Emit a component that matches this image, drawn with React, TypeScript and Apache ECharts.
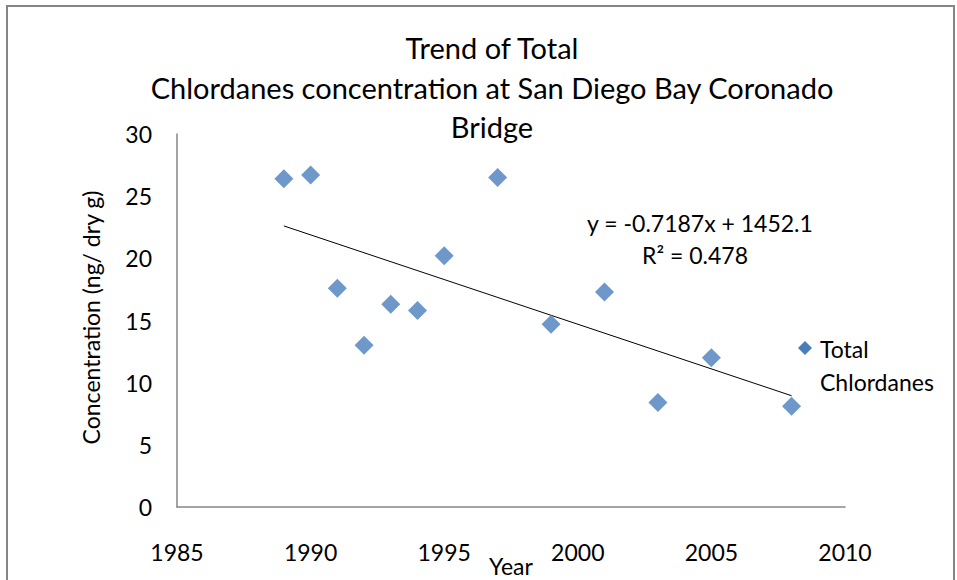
import React, { useEffect, useRef } from "react";
import * as echarts from "echarts";

const years = [1989, 1990, 1991, 1992, 1993, 1994, 1995, 1997, 1999, 2001, 2003, 2005, 2008];
const concentrations = [26.4, 26.7, 17.6, 13.0, 16.3, 15.8, 20.2, 26.5, 14.7, 17.3, 8.4, 12.0, 8.1];
const trendSlope = -0.7187;
const trendIntercept = 1452.1;
const trendText = ["y = -0.7187x + 1452.1", "R² = 0.478"];
const titleLines = ["Trend of Total", "Chlordanes concentration at San Diego Bay Coronado", "Bridge"];
const seriesName = "Total Chlordanes";
const legendLines = ["Total", "Chlordanes"];

const FONT = "Lato, 'Liberation Sans', sans-serif";
const FS = 23;

export default function App() {
  const ref = useRef<HTMLDivElement>(null);
  useEffect(() => {
    if (!ref.current) return;
    const chart = echarts.init(ref.current, undefined, { renderer: "svg", width: 957, height: 580 });
    const x0 = years[0];
    const x1 = years[years.length - 1];
    const trend = [
      [x0, trendSlope * x0 + trendIntercept],
      [x1, trendSlope * x1 + trendIntercept],
    ];
    chart.setOption({
      animation: false,
      backgroundColor: "#fff",
      textStyle: { fontFamily: FONT },
      title: {
        text: titleLines.join("\n"),
        left: 487,
        textAlign: "center",
        top: 23,
        textStyle: { fontFamily: FONT, fontSize: 29, fontWeight: "normal", color: "#000", lineHeight: 39.5 },
      },
      grid: { left: 177, top: 134, width: 668, height: 373, containLabel: false, outerBoundsMode: "none" },
      xAxis: {
        type: "value",
        min: 1985,
        max: 2010,
        interval: 5,
        name: "Year",
        nameLocation: "middle",
        nameGap: 47,
        nameMoveOverlap: false,
        nameTextStyle: { fontFamily: FONT, fontSize: FS, color: "#000" },
        axisLine: { show: true, lineStyle: { color: "#868686", width: 1.5 } },
        axisTick: { show: false },
        splitLine: { show: false },
        axisLabel: { fontFamily: FONT, fontSize: FS, color: "#000", margin: 33, formatter: (v: number) => String(v) },
      },
      yAxis: {
        type: "value",
        min: 0,
        max: 30,
        interval: 5,
        name: "Concentration (ng/ dry g)",
        nameLocation: "middle",
        nameGap: 75,
        nameMoveOverlap: false,
        nameTextStyle: { fontFamily: FONT, fontSize: FS, color: "#000", padding: [0, 0, 0, 6] },
        axisLine: { show: true, lineStyle: { color: "#868686", width: 1.5 } },
        axisTick: { show: false },
        splitLine: { show: false },
        axisLabel: { fontFamily: FONT, fontSize: FS, color: "#000", margin: 25 },
      },
      series: [
        {
          name: "Linear trend",
          type: "line",
          data: trend,
          symbol: "none",
          lineStyle: { color: "#000", width: 1 },
          z: 1,
        },
        {
          name: seriesName,
          type: "scatter",
          data: years.map((y, i) => [y, concentrations[i]]),
          symbol: "diamond",
          symbolSize: [19, 19],
          itemStyle: { color: "#4A7EBB" },
          z: 2,
        },
      ],
      graphic: [
        {
          type: "rect",
          shape: { x: 7, y: 6, width: 947, height: 600 },
          style: { fill: "none", stroke: "#868686", lineWidth: 2 },
          silent: true,
        },
        {
          type: "text",
          x: 700,
          y: 223,
          style: { text: trendText[0], font: `${FS}px ${FONT}`, fill: "#000", align: "center", verticalAlign: "middle" },
        },
        {
          type: "text",
          x: 695,
          y: 255,
          style: { text: trendText[1], font: `${FS}px ${FONT}`, fill: "#000", align: "center", verticalAlign: "middle" },
        },
        {
          type: "polygon",
          shape: { points: [[805, 341], [812, 348], [805, 355], [798, 348]] },
          style: { fill: "#4A7EBB" },
        },
        {
          type: "text",
          x: 820,
          y: 349,
          style: { text: legendLines[0], font: `${FS}px ${FONT}`, fill: "#000", align: "left", verticalAlign: "middle" },
        },
        {
          type: "text",
          x: 820,
          y: 382,
          style: { text: legendLines[1], font: `${FS}px ${FONT}`, fill: "#000", align: "left", verticalAlign: "middle" },
        },
      ],
    });
    return () => chart.dispose();
  }, []);
  return <div ref={ref} style={{ position: "fixed", left: 0, top: 0, width: 957, height: 580 }} />;
}
